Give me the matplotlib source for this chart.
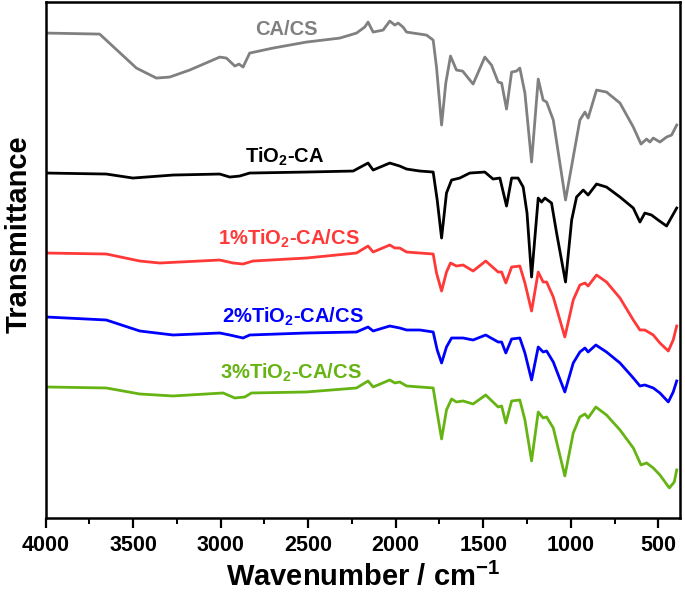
import matplotlib
matplotlib.use("Agg")
import matplotlib.pyplot as plt
from matplotlib.ticker import MultipleLocator

plt.rcParams["font.family"] = "Liberation Sans"
plt.rcParams["font.weight"] = "bold"
plt.rcParams["mathtext.fontset"] = "custom"
plt.rcParams["mathtext.rm"] = "Liberation Sans:bold"
plt.rcParams["mathtext.bf"] = "Liberation Sans:bold"

# spectra (wavenumber in cm-1, transmittance in a.u., stacked)
ca_cs_w = [3995, 3691, 3481, 3367, 3291, 3177, 3005, 2967, 2919, 2895, 2872, 2834, 2701, 2510,
           2319, 2224, 2177, 2158, 2129, 2072, 2034, 2005, 1986, 1958, 1938, 1862, 1824, 1786,
           1767, 1738, 1714, 1687, 1653, 1618, 1558, 1491, 1453, 1415, 1395, 1367, 1338, 1310,
           1291, 1262, 1224, 1186, 1158, 1138, 1100, 1030, 986, 948, 919, 901, 853, 796, 719,
           643, 599, 567, 548, 529, 491, 453, 424, 395]
ca_cs_t = [482, 481, 447, 437, 438, 445, 458, 457, 449, 451, 448, 462, 467, 473,
           477, 482, 488, 493, 483, 485, 494, 490, 492, 488, 483, 481, 480, 475,
           448, 390, 432, 459, 445, 444, 431, 458, 450, 433, 432, 406, 443, 444,
           447, 422, 353, 436, 415, 413, 395, 315, 358, 395, 403, 397, 425, 423, 412,
           388, 371, 376, 373, 377, 373, 378, 380, 390]

tio2_ca_w = [3995, 3653, 3501, 3272, 3005, 2948, 2891, 2834, 2510, 2243, 2158, 2129, 2034, 1977,
             1938, 1862, 1786, 1763, 1738, 1710, 1681, 1634, 1577, 1491, 1444, 1405, 1367, 1338,
             1301, 1272, 1250, 1224, 1186, 1167, 1148, 1110, 1081, 1030, 995, 967, 929, 901,
             853, 796, 719, 643, 605, 577, 539, 501, 453, 424, 395]
tio2_ca_t = [342, 341, 337, 340, 341, 338, 339, 342, 343, 344, 352, 345, 352, 349,
             346, 344, 343, 315, 277, 322, 335, 337, 342, 343, 336, 337, 309, 337,
             337, 328, 302, 238, 317, 313, 317, 312, 282, 233, 295, 318, 325, 320,
             331, 328, 318, 307, 293, 302, 300, 295, 289, 298, 307]

s1_w = [3995, 3653, 3462, 3348, 3005, 2929, 2872, 2815, 2510, 2224, 2158, 2129, 2034, 2005,
        1977, 1938, 1862, 1786, 1767, 1738, 1710, 1687, 1653, 1615, 1558, 1486, 1415, 1395,
        1371, 1338, 1291, 1262, 1224, 1186, 1158, 1138, 1100, 1034, 986, 948, 919, 901,
        853, 796, 719, 643, 605, 577, 529, 491, 443, 415, 395]
s1_t = [262, 261, 254, 252, 255, 252, 251, 254, 257, 262, 269, 263, 270, 267,
        267, 263, 262, 261, 242, 224, 243, 252, 249, 250, 244, 254, 243, 243,
        232, 248, 249, 232, 204, 243, 233, 233, 218, 178, 215, 230, 232, 229,
        240, 233, 217, 195, 185, 185, 180, 172, 164, 175, 189]

s2_w = [3995, 3653, 3462, 3272, 3005, 2948, 2872, 2834, 2510, 2224, 2158, 2129, 2034, 1977,
        1938, 1862, 1786, 1763, 1738, 1710, 1681, 1615, 1558, 1486, 1415, 1395, 1371, 1338,
        1291, 1262, 1224, 1186, 1158, 1138, 1100, 1034, 986, 948, 919, 901, 857, 796,
        719, 643, 605, 577, 529, 491, 443, 415, 395]
s2_t = [198, 195, 184, 180, 182, 180, 177, 180, 182, 183, 188, 184, 189, 187,
        185, 185, 183, 165, 152, 168, 177, 177, 175, 180, 173, 173, 162, 176,
        177, 162, 135, 168, 163, 164, 153, 123, 152, 163, 167, 163, 170, 163,
        152, 137, 129, 130, 127, 122, 113, 123, 134]

s3_w = [3995, 3653, 3462, 3272, 2986, 2919, 2862, 2824, 2510, 2224, 2158, 2129, 2034, 2005,
        1977, 1938, 1862, 1786, 1763, 1738, 1710, 1681, 1653, 1615, 1558, 1486, 1415, 1395,
        1371, 1338, 1291, 1262, 1224, 1186, 1158, 1138, 1100, 1034, 986, 948, 919, 901,
        857, 796, 719, 643, 599, 567, 529, 491, 437, 409, 395]
s3_t = [128, 127, 121, 119, 122, 117, 118, 122, 123, 127, 134, 128, 135, 132,
        133, 129, 128, 127, 102, 76, 105, 116, 113, 114, 111, 120, 108, 109,
        92, 114, 115, 95, 54, 103, 97, 98, 87, 39, 82, 98, 101, 97,
        108, 100, 85, 67, 50, 52, 47, 40, 27, 33, 45]

labels = ["CA/CS", r"TiO$_{2}$-CA", r"1%TiO$_{2}$-CA/CS",
          r"2%TiO$_{2}$-CA/CS", r"3%TiO$_{2}$-CA/CS"]
colors = ["#808080", "#000000", "#ff3838", "#0000ff", "#66b414"]
label_w = [2622, 2633, 2610, 2587, 2598]
label_t = [486, 358, 276, 198, 142]


def main():
    fig = plt.figure(figsize=(6.85, 5.95), dpi=100)
    ax = fig.add_axes([0.0665, 0.1295, 0.926, 0.867])

    series = [(ca_cs_w, ca_cs_t), (tio2_ca_w, tio2_ca_t), (s1_w, s1_t),
              (s2_w, s2_t), (s3_w, s3_t)]
    for (w, t), c, lab, lw_, lt in zip(series, colors, labels, label_w, label_t):
        ax.plot(w, t, color=c, lw=2.0, solid_joinstyle="round")
        ax.text(lw_, lt, lab, color=c, fontsize=14.5, fontweight="bold",
                ha="center", va="center")

    ax.set_xlim(4000, 377)
    ax.set_ylim(-3, 513)
    ax.xaxis.set_major_locator(MultipleLocator(500))
    ax.xaxis.set_minor_locator(MultipleLocator(250))
    ax.set_yticks([])
    ax.tick_params(axis="x", which="major", direction="out", length=7, width=1.6,
                   labelsize=15.5, pad=5)
    ax.tick_params(axis="x", which="minor", direction="out", length=4, width=1.4)
    for s in ax.spines.values():
        s.set_linewidth(1.8)

    ax.set_xlabel(r"Wavenumber / cm$^{-1}$", fontsize=21, fontweight="bold", labelpad=5)
    ax.set_ylabel("Transmittance", fontsize=21, fontweight="bold")
    ax.yaxis.set_label_coords(-0.021, 0.55)

    fig.savefig("out.png", dpi=100)


if __name__ == "__main__":
    main()
